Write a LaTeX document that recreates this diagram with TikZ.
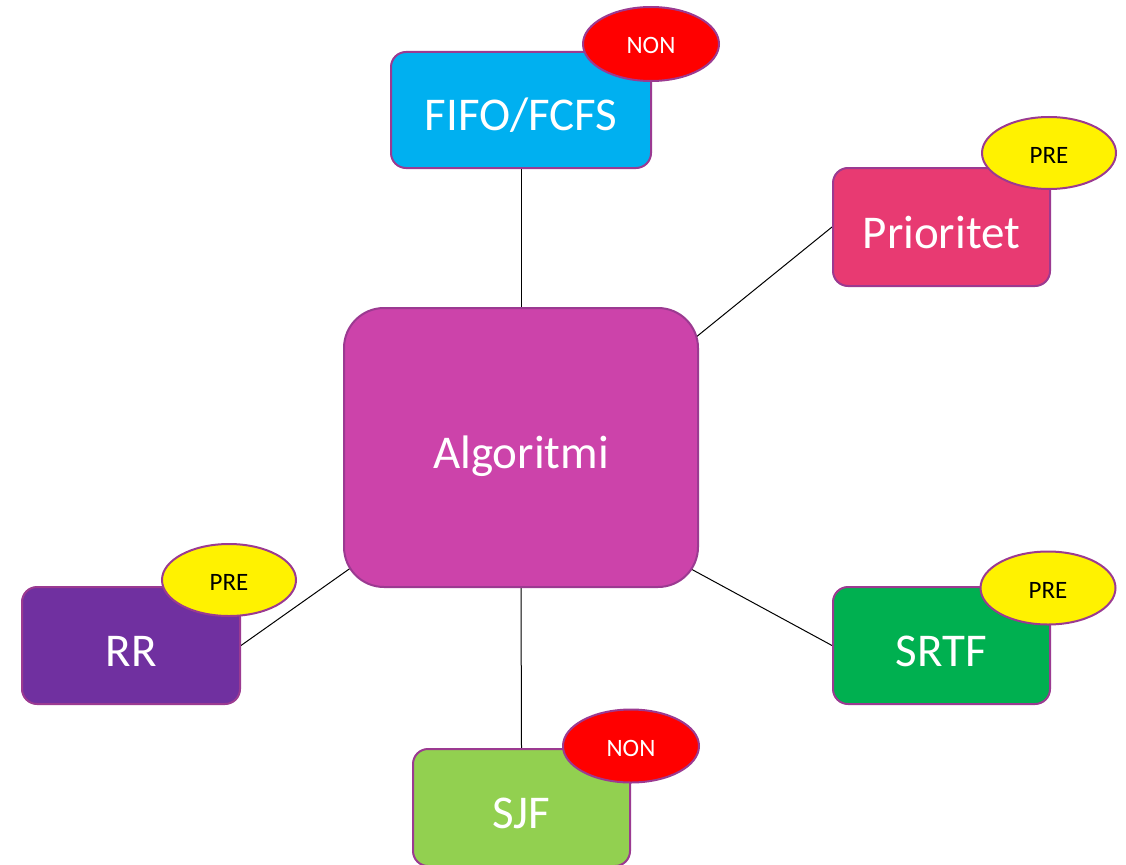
\documentclass[tikz,border=0pt]{standalone}
\usepackage{fontspec}
\setmainfont{Carlito}
\usetikzlibrary{shapes.geometric,backgrounds}
\definecolor{bordc}{HTML}{9B3A91}
\definecolor{algc}{HTML}{CC43AA}
\definecolor{fifoc}{HTML}{00B0F0}
\definecolor{prioc}{HTML}{E83A72}
\definecolor{rrc}{HTML}{7030A0}
\definecolor{srtfc}{HTML}{00B050}
\definecolor{sjfc}{HTML}{92D050}
\tikzset{
  algbox/.style={draw=bordc, line width=2pt, rounded corners=15pt, inner sep=0pt,
    text=white, font=\fontsize{47}{56}\selectfont, text height=42pt, text depth=0pt},
  tag/.style={ellipse, draw=bordc, line width=2pt, inner sep=0pt,
    font=\fontsize{25}{30}\selectfont, text height=20pt, text depth=0pt},
  nontag/.style={tag, fill=red, text=white},
  pretag/.style={tag, fill=yellow, text=black},
  conn/.style={draw=black, line width=1pt}
}
\begin{document}
\begin{tikzpicture}[x=1pt,y=-1pt]
\useasboundingbox (0,0) rectangle (1126,864);
\clip (0,0) rectangle (1126,864);
\node[algbox, fill=algc, rounded corners=40pt, minimum width=354pt, minimum height=279pt] (alg) at (521,447.5) {Algoritmi};
\node[algbox, fill=fifoc, minimum width=260pt, minimum height=116pt] (fifo) at (521,110) {FIFO/FCFS};
\node[algbox, fill=prioc, minimum width=217pt, minimum height=118pt] (prio) at (941.5,227) {Prioritet};
\node[algbox, fill=rrc, minimum width=218pt, minimum height=117pt] (rr) at (131,645.5) {RR};
\node[algbox, fill=srtfc, minimum width=217pt, minimum height=117pt] (srtf) at (941.5,645.5) {SRTF};
\node[algbox, fill=sjfc, minimum width=217pt, minimum height=117pt] (sjf) at (521.5,807.5) {SJF};
\node[nontag, minimum width=136pt, minimum height=74pt] (t1) at (651,44) {NON};
\node[pretag, minimum width=134pt, minimum height=72pt] (t2) at (1049,153) {PRE};
\node[pretag, minimum width=134pt, minimum height=72pt] (t3) at (229,580) {PRE};
\node[pretag, minimum width=135pt, minimum height=73pt] (t4) at (1048,588) {PRE};
\node[nontag, minimum width=136pt, minimum height=73pt] (t5) at (631,746) {NON};
\coordinate (prioend) at (690,342);
\coordinate (srtfend) at (680,563);
\begin{pgfonlayer}{background}
\draw[conn] (fifo.south) -- (alg.north);
\draw[conn] (prio.west) -- (prioend);
\draw[conn] (rr.east) -- (alg.center);
\draw[conn] (srtf.west) -- (srtfend);
\draw[conn] (sjf.north) -- (alg.south);
\end{pgfonlayer}
\end{tikzpicture}
\end{document}
